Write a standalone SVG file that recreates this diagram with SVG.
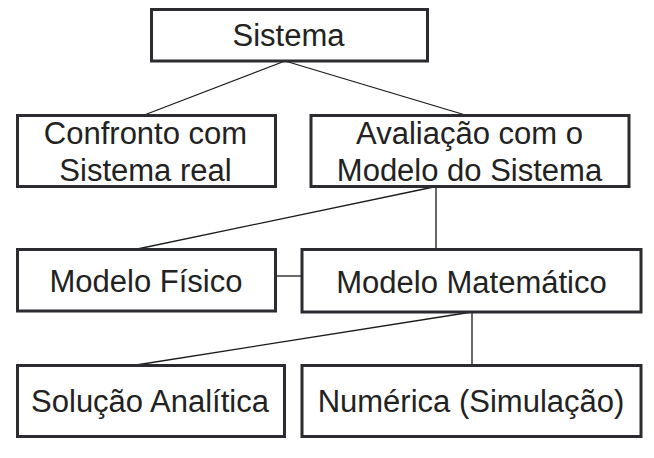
<svg xmlns="http://www.w3.org/2000/svg" width="654" height="458" viewBox="0 0 654 458">
<style>
.box{fill:#fff;stroke:#2b2b30;stroke-width:3}
.lbl{font-family:"Liberation Sans",Arial,sans-serif;font-size:31px;fill:#222;text-anchor:middle}
.con{stroke:#1a1a1a;stroke-width:1.3;fill:none}
</style>
<rect width="654" height="458" fill="#fff"/>
<g id="connectors">
<line class="con" x1="285" y1="61" x2="143" y2="115.5"/>
<line class="con" x1="285" y1="61" x2="467" y2="115.5"/>
<line class="con" x1="436" y1="186.5" x2="135" y2="249.5"/>
<line class="con" x1="436" y1="186.5" x2="436" y2="249.5"/>
<line class="con" x1="275.5" y1="276" x2="302" y2="276"/>
<line class="con" x1="472" y1="312" x2="133" y2="365.5"/>
<line class="con" x1="472" y1="312" x2="472" y2="365.5"/>
</g>
<g id="sistema">
<rect class="box" x="151.5" y="9.5" width="276" height="51.5"/>
<text class="lbl" x="288.5" y="46">Sistema</text>
</g>
<g id="confronto">
<rect class="box" x="17.5" y="115.5" width="258" height="71"/>
<text class="lbl" x="145.5" y="144">Confronto com</text>
<text class="lbl" x="145.5" y="181">Sistema real</text>
</g>
<g id="avaliacao">
<rect class="box" x="311" y="115.5" width="318" height="71"/>
<text class="lbl" x="469.5" y="144">Avaliação com o</text>
<text class="lbl" x="469.5" y="181">Modelo do Sistema</text>
</g>
<g id="modelo-fisico">
<rect class="box" x="17.5" y="249.5" width="258" height="61.5"/>
<text class="lbl" x="146" y="291.5">Modelo Físico</text>
</g>
<g id="modelo-matematico">
<rect class="box" x="302" y="249.5" width="339" height="62.5"/>
<text class="lbl" x="471.5" y="292.5">Modelo Matemático</text>
</g>
<g id="solucao-analitica">
<rect class="box" x="17.5" y="365.5" width="267" height="71"/>
<text class="lbl" x="150" y="411.5">Solução Analítica</text>
</g>
<g id="numerica">
<rect class="box" x="302" y="365.5" width="339" height="71"/>
<text class="lbl" x="471" y="411.5">Numérica (Simulação)</text>
</g>
</svg>
